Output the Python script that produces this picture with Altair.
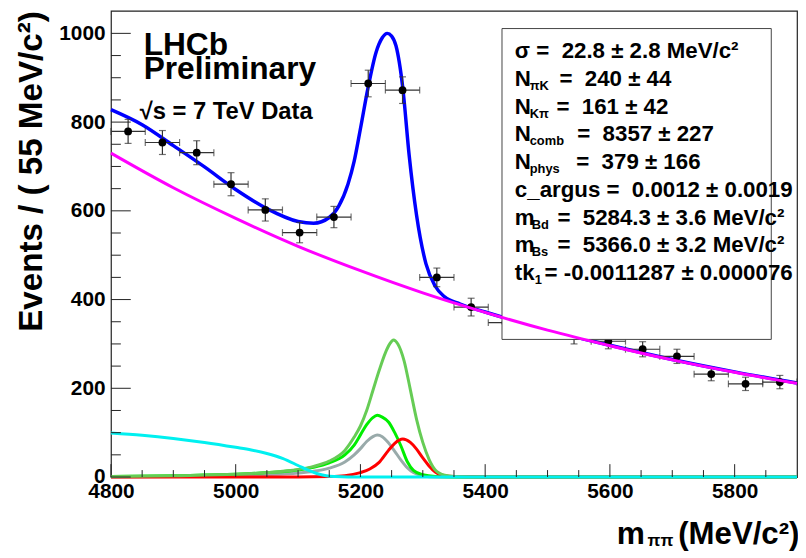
import altair as alt
import pandas as pd

FONT = "Liberation Sans"
SP = "\u00a0"

# ---------------- data ----------------
bin_centers = [4827.5, 4882.5, 4937.5, 4992.5, 5047.5, 5102.5, 5157.5, 5212.5, 5267.5, 5322.5,
               5377.5, 5432.5, 5487.5, 5542.5, 5597.5, 5652.5, 5707.5, 5762.5, 5817.5, 5872.5]
counts = [779, 754, 731, 660, 602, 551, 586, 887, 872, 450,
          383, 348, 333, 318, 306, 288, 272, 232, 210, 214]
count_errors = [27, 27, 27, 26, 25, 23, 24, 30, 30, 21,
                20, 19, 18, 18, 17, 17, 16, 15, 15, 15]
bin_half_width = 27.5

# total fit (blue)
total_m = [4800, 4850, 4900, 4950, 5000, 5050, 5100, 5125, 5150, 5165, 5180, 5190, 5200, 5212,
           5225, 5235, 5243, 5250, 5257, 5268, 5278, 5290, 5305, 5320, 5335, 5360, 5400, 5500,
           5600, 5700, 5800, 5900]
total_v = [828, 794, 747, 699, 648, 605, 576, 572, 585, 610, 660, 712, 785, 876,
           957, 990, 1000, 994, 972, 876, 727, 590, 481, 430, 406, 390, 372, 332,
           297, 265, 237, 212]

# combinatorial background (magenta)
comb_m = [4800, 4900, 5000, 5100, 5200, 5300, 5400, 5500, 5600, 5700, 5800, 5900]
comb_v = [730, 652, 583, 520, 465, 415, 371, 331, 296, 264, 236, 211]

# partially reconstructed background (cyan)
phys_m = [4800, 4850, 4900, 4950, 5000, 5025, 5050, 5075, 5100, 5115, 5130, 5145, 5160, 5180, 5900]
phys_v = [99, 94, 87, 78, 67, 61, 53, 42, 26, 16, 8, 3, 1, 0, 0]

# sum of misidentified components (light green)
sum_m = [4800, 4900, 5000, 5050, 5100, 5125, 5150, 5175, 5190, 5200, 5210, 5220, 5230, 5240,
         5247, 5253, 5260, 5270, 5280, 5290, 5300, 5310, 5320, 5335, 5350, 5380, 5450, 5900]
sum_v = [1, 3, 6, 10, 17, 24, 36, 60, 90, 115, 150, 195, 240, 280,
         300, 309, 300, 262, 197, 130, 78, 40, 16, 4, 1, 0, 0, 0]

# pi K component (bright green)
pik_m = [4800, 4900, 5000, 5050, 5100, 5125, 5150, 5175, 5190, 5200, 5210, 5220, 5227, 5235,
         5245, 5255, 5265, 5275, 5285, 5300, 5320, 5350, 5900]
pik_v = [1, 3, 6, 10, 16, 22, 32, 50, 72, 95, 118, 134, 139, 135,
         124, 100, 70, 35, 15, 5, 1, 0, 0]

# grey component
grey_m = [4800, 4900, 5000, 5050, 5100, 5125, 5150, 5175, 5190, 5200, 5210, 5220, 5227, 5235,
          5245, 5255, 5265, 5275, 5285, 5300, 5320, 5900]
grey_v = [0, 1, 3, 5, 9, 13, 20, 34, 50, 64, 80, 91, 94.5, 91,
          77, 58, 38, 21, 10, 3, 0, 0]

# K pi component (red)
kpi_m = [4800, 5100, 5150, 5175, 5200, 5215, 5230, 5245, 5255, 5268, 5280, 5290, 5300, 5310,
         5320, 5335, 5350, 5400, 5900]
kpi_v = [0, 0, 1, 3, 10, 18, 33, 60, 76, 85.6, 78, 63, 43, 25,
         11, 3, 1, 0, 0]

x_major_ticks = [4800, 5000, 5200, 5400, 5600, 5800]
x_minor_ticks = [t for t in range(4850, 5900, 50) if t not in x_major_ticks]
y_major_ticks = [0, 200, 400, 600, 800, 1000]
y_minor_ticks = [t for t in range(50, 1050, 50) if t not in y_major_ticks]

param_main = ["σ =  22.8 ± 2.8 MeV/c²", "N", "N", "N", "N",
              "c_argus =  0.0012 ± 0.0019", "m", "m", "tk"]
param_sub = ["", "πK", "Kπ", "comb", "phys", "", "Bd", "Bs", "1"]
param_rest = ["", "=  240 ± 44", "=  161 ± 42", "=  8357 ± 227", "=  379 ± 166", "",
              "=  5284.3 ± 3.6 MeV/c²", "=  5366.0 ± 3.2 MeV/c²", "= -0.0011287 ± 0.000076"]

# ---------------- chart ----------------
W, H = 693, 471
xs = alt.Scale(domain=[4800, 5900], nice=False, zero=False)
ys = alt.Scale(domain=[0, 1051], nice=False, zero=False)

x_axis = alt.Axis(values=x_major_ticks, format="d", title=None, ticks=False, domain=False,
                  grid=False, labelFont=FONT, labelFontSize=21, labelFontWeight="bold",
                  labelColor="black", labelPadding=4, labelFlush=False, labelOverlap=False)
y_axis = alt.Axis(values=y_major_ticks, format="d", ticks=False, domain=False, grid=False,
                  labelFont=FONT, labelFontSize=21, labelFontWeight="bold", labelColor="black",
                  labelPadding=6, labelFlush=False, labelOverlap=False,
                  title="Events / ( 55 MeV/c²)", titleFont=FONT, titleFontSize=33.5,
                  titleFontWeight="bold", titleColor="black", titleAngle=270,
                  titleAlign="right", titleBaseline="alphabetic", titleX=-70, titleY=0)


def X(field):
    return alt.X(field, scale=xs, axis=x_axis, title=None)


def Y(field):
    return alt.Y(field, scale=ys, axis=y_axis, title="Events / ( 55 MeV/c²)")


pts = pd.DataFrame({"m": bin_centers, "n": counts, "e": count_errors})
pts["lo"] = pts["n"] - pts["e"]
pts["hi"] = pts["n"] + pts["e"]
pts["xlo"] = pts["m"] - bin_half_width
pts["xhi"] = pts["m"] + bin_half_width

ERR = "#333333"


def curve(m, v, color, width=3.0):
    return alt.Chart(pd.DataFrame({"m": m, "v": v})).mark_line(
        color=color, strokeWidth=width, interpolate="monotone"
    ).encode(x=X("m:Q"), y=Y("v:Q"))


def label(text, x, y, size, weight="bold", color="black"):
    text = text.replace("  ", " " + SP)
    return alt.Chart(alt.Data(values=[{}])).mark_text(
        font=FONT, fontSize=size, fontWeight=weight, color=color,
        align="left", baseline="alphabetic"
    ).encode(x=alt.value(x), y=alt.value(y), text=alt.value(text))


xt_major = alt.Chart(pd.DataFrame({"t": x_major_ticks})).mark_rule(color="#222", strokeWidth=1).encode(
    x=X("t:Q"), y=alt.value(H), y2=alt.value(H - 13))
xt_minor = alt.Chart(pd.DataFrame({"t": x_minor_ticks})).mark_rule(color="#222", strokeWidth=1).encode(
    x=X("t:Q"), y=alt.value(H), y2=alt.value(H - 7))
yt_major = alt.Chart(pd.DataFrame({"t": y_major_ticks})).mark_rule(color="#222", strokeWidth=1).encode(
    y=Y("t:Q"), x=alt.value(0), x2=alt.value(20))
yt_minor = alt.Chart(pd.DataFrame({"t": y_minor_ticks})).mark_rule(color="#222", strokeWidth=1).encode(
    y=Y("t:Q"), x=alt.value(0), x2=alt.value(10))

base = alt.Chart(pts)
vbar = base.mark_rule(color=ERR, strokeWidth=1.2).encode(x=X("m:Q"), y=Y("lo:Q"), y2="hi:Q")
hbar = base.mark_rule(color=ERR, strokeWidth=1.2).encode(x=X("xlo:Q"), x2="xhi:Q", y=Y("n:Q"))
cap_lo = base.mark_tick(color=ERR, orient="horizontal", size=7, thickness=1.2).encode(
    x=X("m:Q"), y=Y("lo:Q"))
cap_hi = base.mark_tick(color=ERR, orient="horizontal", size=7, thickness=1.2).encode(
    x=X("m:Q"), y=Y("hi:Q"))
cap_l = base.mark_tick(color=ERR, orient="vertical", size=7, thickness=1.2).encode(
    x=X("xlo:Q"), y=Y("n:Q"))
cap_r = base.mark_tick(color=ERR, orient="vertical", size=7, thickness=1.2).encode(
    x=X("xhi:Q"), y=Y("n:Q"))
dots = base.mark_circle(color="black", opacity=1, size=62).encode(x=X("m:Q"), y=Y("n:Q"))

box = alt.Chart(alt.Data(values=[{}])).mark_rect(fill="white", stroke="#444", strokeWidth=1).encode(
    x=alt.value(395), x2=alt.value(667), y=alt.value(18), y2=alt.value(332))

layers = [curve(grey_m, grey_v, "#99aaaa"),
          curve(pik_m, pik_v, "#00ee00"),
          curve(kpi_m, kpi_v, "#ff0000"),
          curve(sum_m, sum_v, "#66cc55"),
          curve(phys_m, phys_v, "#00f0f0"),
          curve(total_m, total_v, "#0000ff", 3.5),
          vbar, hbar, cap_lo, cap_hi, cap_l, cap_r, dots,
          xt_major, xt_minor, yt_major, yt_minor,
          box]

# parameter box text
sub_x = {"N": 423, "m": 425, "tk": 428}
rest_x = [0, 453, 450, 471, 470, 0, 451, 451, 438]
for i in range(len(param_main)):
    yb = 48 + 28 * i
    layers.append(label(param_main[i], 408, yb, 22.5))
    if param_sub[i]:
        layers.append(label(param_sub[i], sub_x[param_main[i]], yb + 4, 13))
    if param_rest[i]:
        layers.append(label(param_rest[i], rest_x[i], yb, 22.5))

layers.append(curve(comb_m, comb_v, "#ff00ff", 3.0))

# LHCb labels
layers.append(label("LHCb", 33, 45, 32))
layers.append(label("Preliminary", 33, 69, 32))
layers.append(label("√s = 7 TeV Data", 29, 109, 24))

# x-axis title
layers.append(label("m", 511, 539, 32))
layers.append(label("ππ", 542, 541, 17))
layers.append(label("(MeV/c²)", 573, 539, 31.5))

chart = alt.layer(*layers).properties(
    width=W, height=H,
    autosize=alt.AutoSizeParams(type="none"),
    padding={"left": 104, "top": 0, "right": 1, "bottom": 76},
    background="white",
).configure_view(stroke="#222", strokeWidth=1.2)

chart.save("out.html", embed_options={"renderer": "svg", "actions": False})
